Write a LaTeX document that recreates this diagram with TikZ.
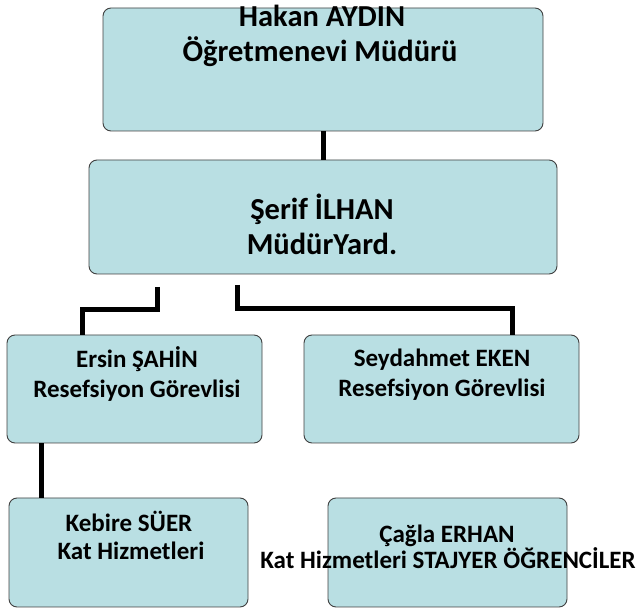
\documentclass[tikz,border=0pt]{standalone}
\usepackage{fontspec}
\setmainfont{Carlito}
\begin{document}
\begin{tikzpicture}[x=1pt,y=-1pt,
  box/.style={draw=black!75,line width=0.9pt,fill=boxfill,rounded corners=8pt,inner sep=0pt},
  conn/.style={draw=black,line width=5pt},
  bigtxt/.style={anchor=base,inner sep=0pt,font=\fontsize{30.5}{35}\selectfont\bfseries},
  smtxt/.style={anchor=base,inner sep=0pt,font=\fontsize{25}{30}\selectfont\bfseries}]
\definecolor{boxfill}{HTML}{B9DFE3}
\useasboundingbox (0,0) rectangle (641,609);
% boxes
\node[box,minimum width=440pt,minimum height=123pt] (A) at (323,69.5) {};
\node[box,minimum width=468pt,minimum height=114pt] (B) at (323,217) {};
\node[box,minimum width=255pt,minimum height=108pt] (C) at (134.5,389) {};
\node[box,minimum width=275pt,minimum height=108pt] (D) at (441.5,389) {};
\node[box,minimum width=239pt,minimum height=109pt] (E) at (128.5,552.5) {};
\node[box,minimum width=239pt,minimum height=109pt] (F) at (447.5,552.5) {};
% texts
\node[bigtxt] (a1) at (322,27) {Hakan AYDIN};
\node[bigtxt] (a2) at (320,62) {Öğretmenevi Müdürü};
\node[bigtxt] (b1) at (322,220) {Şerif İLHAN};
\node[bigtxt] (b2) at (322,255) {MüdürYard.};
\node[smtxt] (c1) at (137,368) {Ersin ŞAHİN};
\node[smtxt] (c2) at (137,398) {Resefsiyon Görevlisi};
\node[smtxt] (d1) at (442,367) {Seydahmet EKEN};
\node[smtxt] (d2) at (442,397) {Resefsiyon Görevlisi};
\node[smtxt] (e1) at (129,532) {Kebire SÜER};
\node[smtxt] (e2) at (131,560) {Kat Hizmetleri};
\node[smtxt] (f1) at (447,543) {Çağla ERHAN};
\node[smtxt] (f2) at (448,569) {Kat Hizmetleri STAJYER ÖĞRENCİLER};
% connectors
\draw[conn] (A.south) -- (B.north);
\coordinate (s1) at (157,287);
\coordinate (k1) at (82,310);
\draw[conn] (s1) |- (k1) -- (k1 |- C.north);
\coordinate (s2) at (237,285);
\coordinate (k2) at (512,309);
\draw[conn] (s2) |- (k2) -- (k2 |- D.north);
\coordinate (d3) at (41,0);
\draw[conn] (C.south -| d3) -- (E.north -| d3);
\end{tikzpicture}
\end{document}
